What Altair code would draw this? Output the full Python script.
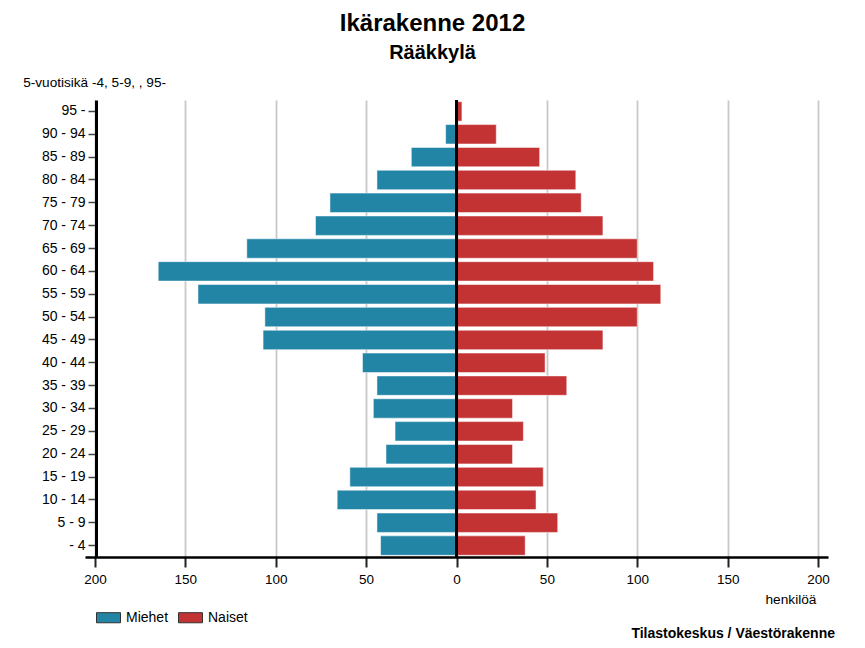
import altair as alt
import pandas as pd

ages = ["95 -", "90 - 94", "85 - 89", "80 - 84", "75 - 79", "70 - 74", "65 - 69",
        "60 - 64", "55 - 59", "50 - 54", "45 - 49", "40 - 44", "35 - 39", "30 - 34",
        "25 - 29", "20 - 24", "15 - 19", "10 - 14", "5 - 9", "- 4"]
miehet = [0, 6, 25, 44, 70, 78, 116, 165, 143, 106, 107, 52, 44, 46, 34, 39, 59, 66, 44, 42]
naiset = [3, 22, 46, 66, 69, 81, 100, 109, 113, 100, 81, 49, 61, 31, 37, 31, 48, 44, 56, 38]
x_ticks = [-200, -150, -100, -50, 0, 50, 100, 150, 200]
groups = ["Miehet", "Naiset"]
colors = ["#2385a6", "#c43334"]
source_text = ["Tilastokeskus / Väestörakenne"]

rows = []
for a, m, n in zip(ages, miehet, naiset):
    rows.append({"age": a, "sukupuoli": "Miehet", "value": -m})
    rows.append({"age": a, "sukupuoli": "Naiset", "value": n})
df = pd.DataFrame(rows)

FONT = "Liberation Sans"

xscale = alt.Scale(domain=[-205.5, 205.5], nice=False, zero=False)
yscale = alt.Scale(domain=ages, paddingInner=0.15, paddingOuter=0.075)

bars = alt.Chart(df).mark_bar(stroke="white", strokeWidth=1, strokeOpacity=0.5).encode(
    x=alt.X("value:Q", scale=xscale,
            axis=alt.Axis(values=x_ticks, labelExpr="abs(datum.value)", grid=True,
                          gridColor="#c8c8c8", gridWidth=1.8, domainColor="black",
                          domainWidth=2.5, tickColor="#222", tickWidth=2, tickSize=10,
                          labelPadding=5, labelFontSize=13.5, labelColor="black",
                          labelFont=FONT, title="henkilöä", titleFont=FONT,
                          titleFontSize=13.7, titleFontWeight="normal", titleColor="black",
                          titleAnchor="end", titleAlign="right", titleX=731, titleY=46.7,
                          titleBaseline="alphabetic")),
    y=alt.Y("age:N", scale=yscale, sort=ages,
            axis=alt.Axis(offset=-11, domainColor="black", domainWidth=3,
                          tickColor="#444", tickWidth=1.5, tickSize=8, labelPadding=3,
                          labelFontSize=14, labelColor="black", labelFont=FONT, grid=False,
                          title="5-vuotisikä -4, 5-9, , 95-", titleAngle=0, titleFont=FONT,
                          titleFontSize=13.6, titleFontWeight="normal", titleColor="black",
                          titleAlign="left", titleX=-73.3, titleY=-13.6,
                          titleBaseline="alphabetic")),
    fill=alt.Fill("sukupuoli:N", scale=alt.Scale(domain=groups, range=colors),
                  legend=alt.Legend(orient="none", legendX=11, legendY=505,
                                    direction="horizontal", title=None, padding=0,
                                    symbolType="M-1,-0.42L1,-0.42L1,0.42L-1,0.42Z",
                                    symbolSize=576, symbolStrokeColor="#333",
                                    symbolStrokeWidth=1, symbolOpacity=1,
                                    labelFont=FONT, labelFontSize=14, labelColor="black",
                                    labelOffset=5, columnPadding=7)),
)

zero = alt.Chart(pd.DataFrame({"x": [0]})).mark_rule(color="black", strokeWidth=3).encode(
    x=alt.X("x:Q", scale=xscale)
)

src = alt.Chart(pd.DataFrame({"t": source_text})).mark_text(
    font=FONT, fontSize=14, fontWeight="bold", align="right", baseline="alphabetic",
    color="black"
).encode(x=alt.value(750), y=alt.value(537.5), text="t:N")

chart = alt.layer(bars, zero, src).properties(
    width=743, height=457,
    autosize=alt.AutoSizeParams(type="none"),
    padding={"left": 77, "top": 92, "right": 29, "bottom": 83},
    title=alt.Title("Ikärakenne 2012", subtitle="Rääkkylä", font=FONT, fontSize=24,
                    fontWeight="bold", subtitleFont=FONT, subtitleFontSize=20,
                    subtitleFontWeight="bold", subtitleColor="black", color="black",
                    anchor="middle", frame="group", dx=-24, offset=12, subtitlePadding=7),
).configure_view(strokeWidth=0)

chart.save("out.html", embed_options={"renderer": "svg", "actions": False})
